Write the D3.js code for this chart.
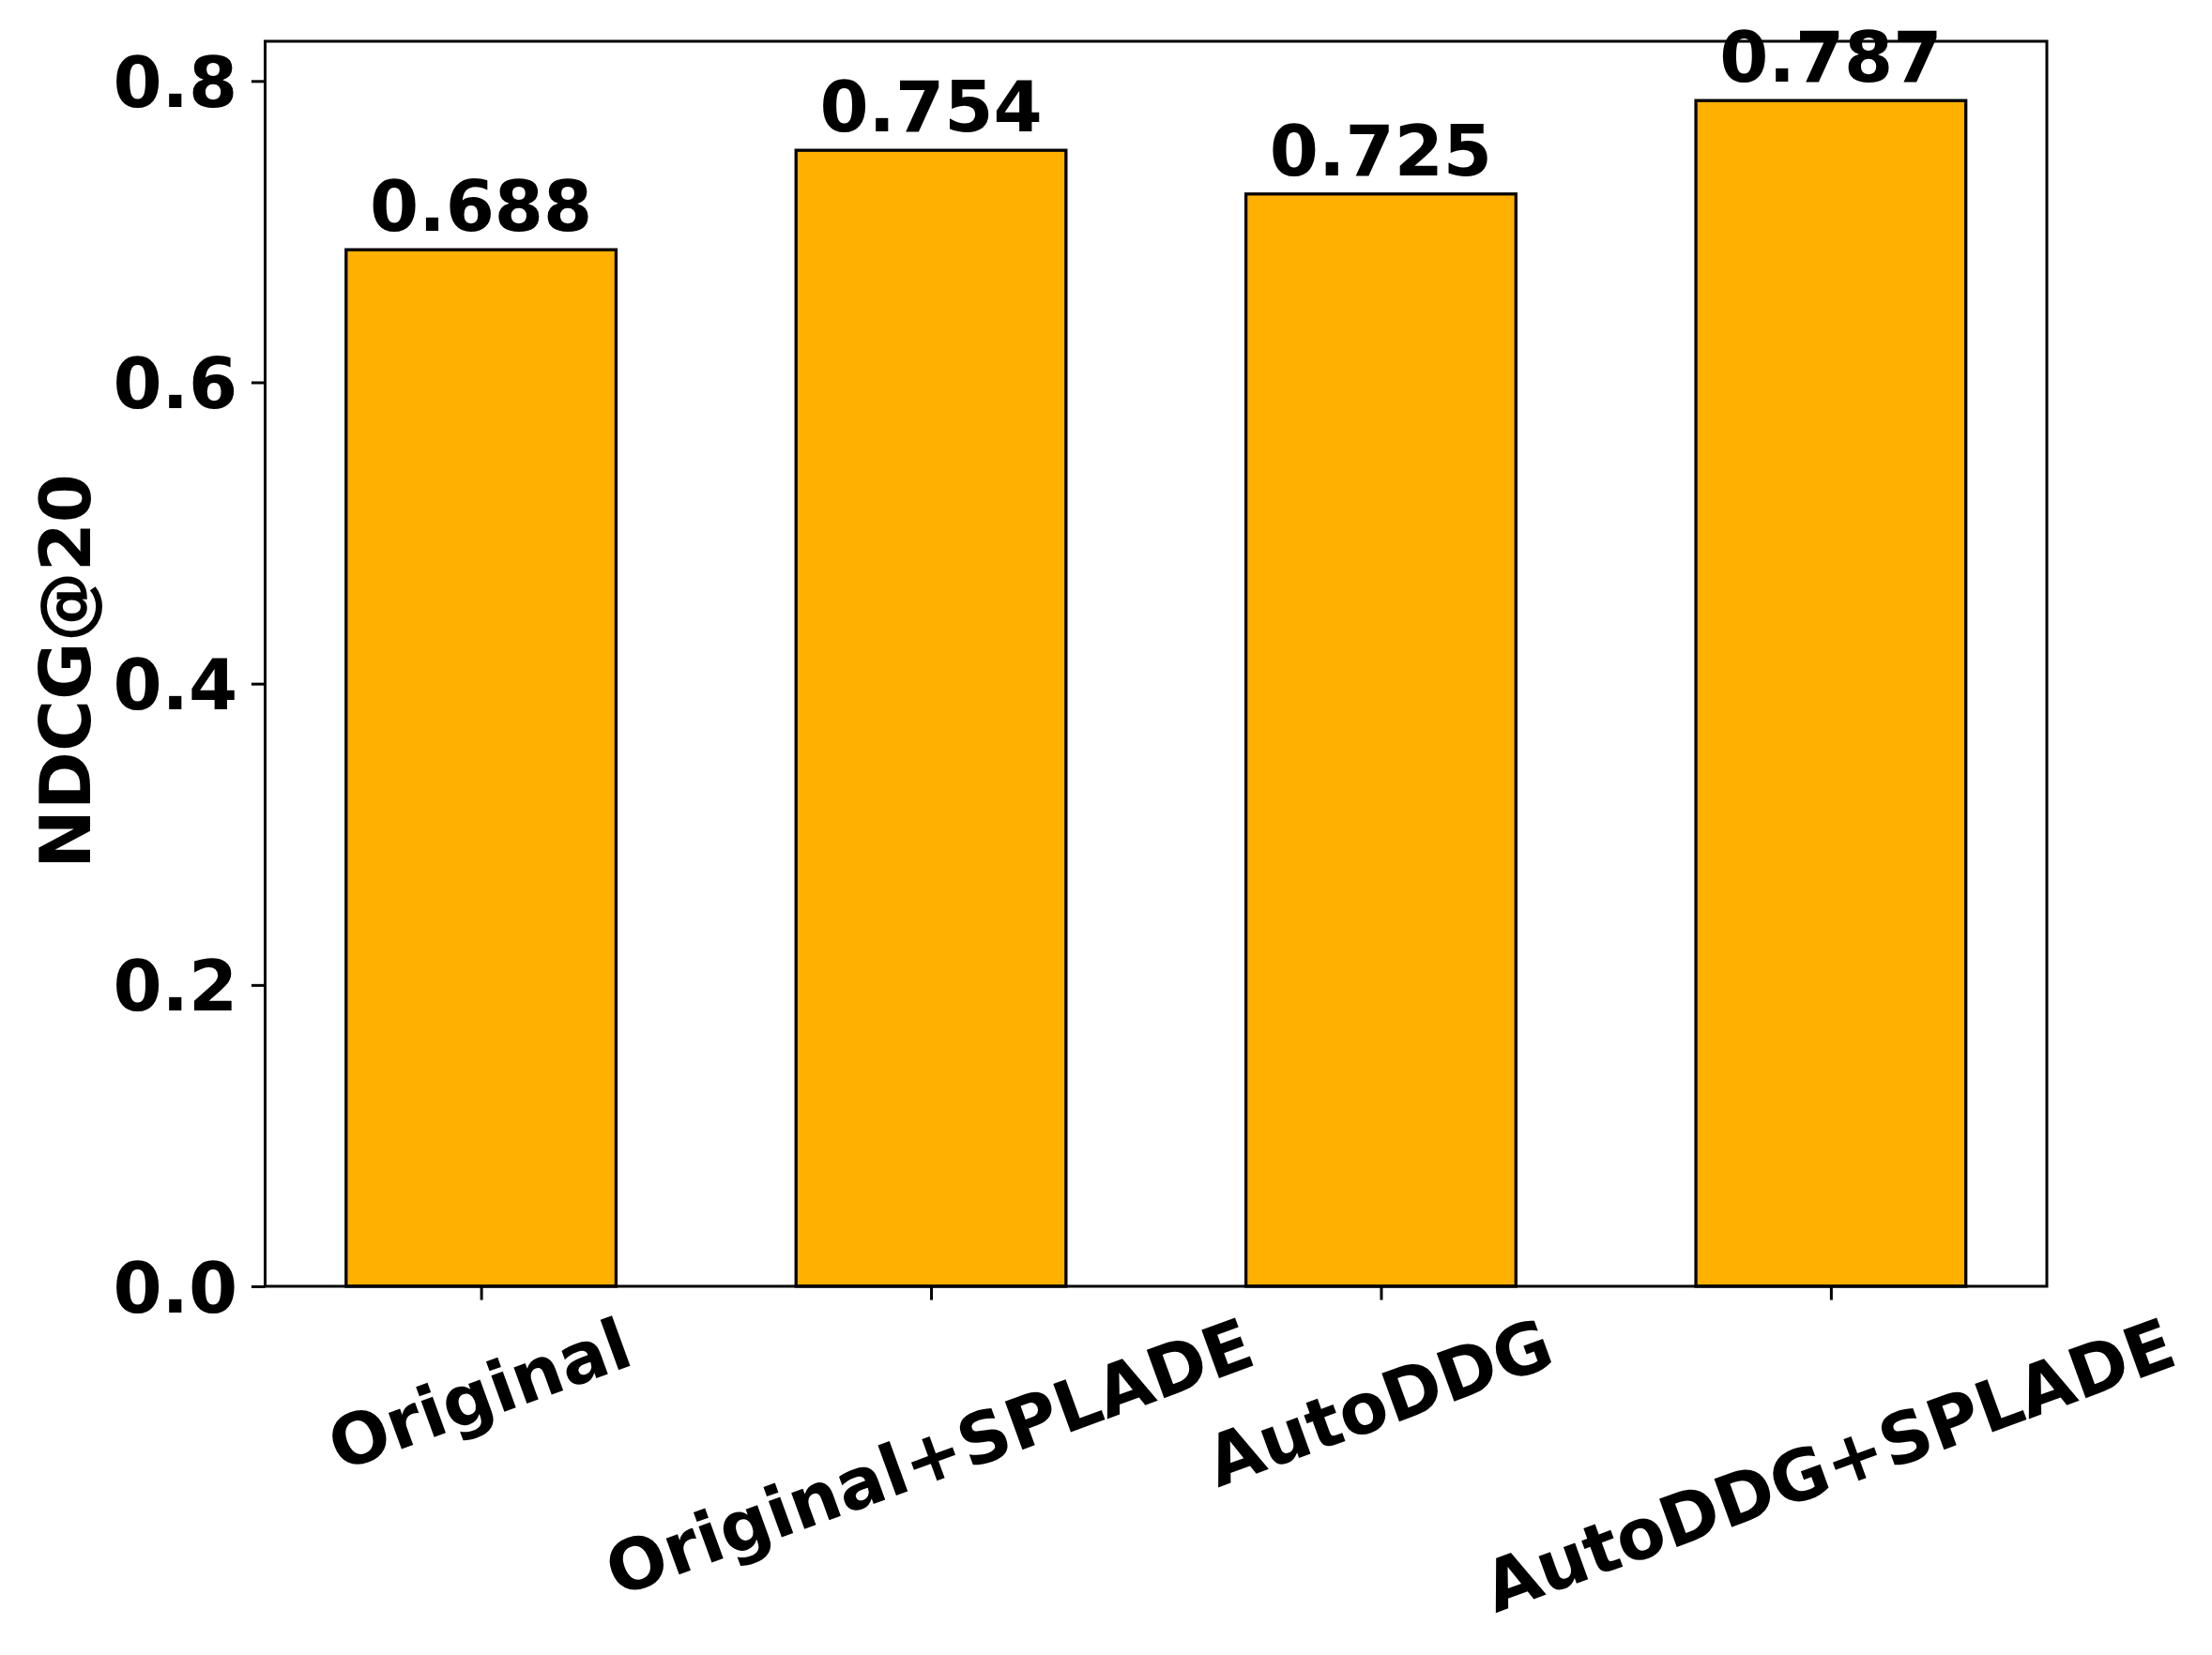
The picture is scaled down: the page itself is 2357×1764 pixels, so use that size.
<!DOCTYPE html>
<meta charset="utf-8">
<style>
body { margin: 0; background: #fff; }
text { font-family: "DejaVu Sans", sans-serif; font-weight: bold; }
</style>
<body>
<script src="https://cdn.jsdelivr.net/npm/d3@7"></script>
<script>
// data
var categories = ["Original", "Original+SPLADE", "AutoDDG", "AutoDDG+SPLADE"];
var scores = [0.688, 0.754, 0.725, 0.787];
var yTicks = [0.0, 0.2, 0.4, 0.6, 0.8];
var yLabel = "NDCG@20";

var width = 2357, height = 1764;
var margin = {top: 44, right: 176, bottom: 393, left: 282.5};
var fs = 75;            // 18pt at 300 dpi
var tickLen = 14.6, tickPad = 14.6;
var barWidth = 0.6;

var svg = d3.select("body").append("svg")
    .attr("width", width)
    .attr("height", height);

var plotW = width - margin.left - margin.right;
var plotH = height - margin.top - margin.bottom;

var x = d3.scaleLinear()
    .domain([-0.3 - 0.18, categories.length - 1 + 0.3 + 0.18])
    .range([0, plotW]);

var y = d3.scaleLinear()
    .domain([0, d3.max(scores) * 1.05])
    .range([plotH, 0]);

var g = svg.append("g")
    .attr("transform", "translate(" + margin.left + "," + margin.top + ")");

// bars
g.selectAll(".bar")
    .data(scores)
  .enter().append("rect")
    .attr("class", "bar")
    .attr("x", function(d, i) { return x(i - barWidth / 2); })
    .attr("width", function() { return x(barWidth) - x(0); })
    .attr("y", function(d) { return y(d); })
    .attr("height", function(d) { return plotH - y(d); })
    .attr("fill", "#FFB000")
    .attr("stroke", "#000")
    .attr("stroke-width", 3.3);

// value labels
g.selectAll(".val")
    .data(scores)
  .enter().append("text")
    .attr("class", "val")
    .attr("x", function(d, i) { return x(i); })
    .attr("y", function(d) { return y(d) - 20; })
    .attr("text-anchor", "middle")
    .style("font-size", fs + "px")
    .text(function(d) { return d3.format(".3f")(d); });

// y axis
var yAxis = g.append("g")
    .call(d3.axisLeft(y)
        .tickValues(yTicks)
        .tickFormat(d3.format(".1f"))
        .tickSize(tickLen)
        .tickPadding(tickPad));
yAxis.select(".domain").remove();
yAxis.selectAll("line").attr("stroke", "#000").attr("stroke-width", 3);
yAxis.selectAll("text")
    .attr("dy", "0.36em")
    .attr("fill", "#000")
    .style("font-size", fs + "px")
    .style("font-family", "'DejaVu Sans', sans-serif")
    .style("font-weight", "bold");

// x axis
var xAxis = g.append("g")
    .attr("transform", "translate(0," + plotH + ")")
    .call(d3.axisBottom(x)
        .tickValues(d3.range(categories.length))
        .tickFormat(function(i) { return categories[i]; })
        .tickSize(tickLen)
        .tickPadding(tickPad));
xAxis.select(".domain").remove();
xAxis.selectAll("line").attr("stroke", "#000").attr("stroke-width", 3);

// rotate labels 20deg, rotated bbox centred under the tick with its top at the pad
var ang = 20 * Math.PI / 180;
xAxis.selectAll("text")
    .attr("fill", "#000")
    .style("font-size", fs + "px")
    .style("font-family", "'DejaVu Sans', sans-serif")
    .style("font-weight", "bold")
    .attr("text-anchor", "middle")
    .attr("dy", null)
    .attr("y", 0.26 * fs)
    .attr("transform", function() {
        var w = this.getComputedTextLength();
        var h = fs;
        var top = tickLen + tickPad;
        var cy = top + (w * Math.sin(ang) + h * Math.cos(ang)) / 2;
        return "translate(0," + cy + ") rotate(-20)";
    });

// frame
g.append("rect")
    .attr("width", plotW)
    .attr("height", plotH)
    .attr("fill", "none")
    .attr("stroke", "#000")
    .attr("stroke-width", 3);

// y label
svg.append("text")
    .attr("transform", "translate(96," + (margin.top + plotH / 2 + 8) + ") rotate(-90)")
    .attr("text-anchor", "middle")
    .style("font-size", fs + "px")
    .text(yLabel);
</script>
</body>
